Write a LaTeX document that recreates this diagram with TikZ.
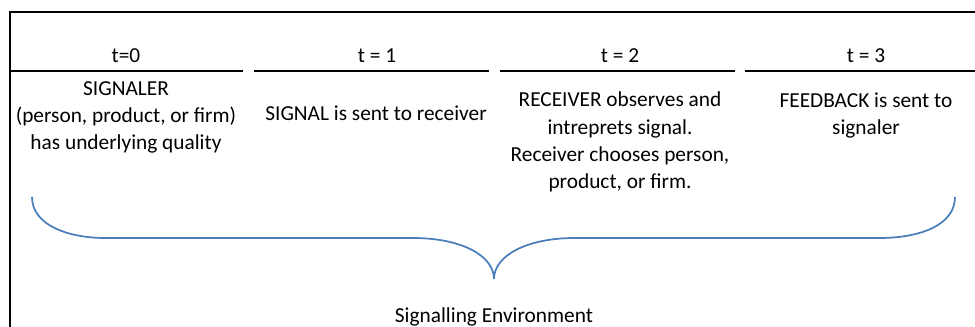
\documentclass[tikz,border=0pt]{standalone}
\usepackage{fontspec}
\setmainfont{Carlito}
\begin{document}
\begin{tikzpicture}[x=0.75pt,y=-0.75pt,
  lbl/.style={font=\fontsize{16}{20.4}\selectfont,align=center,inner sep=0pt,anchor=base},
  rule/.style={line width=1.5pt,black},
  bracecol/.style={line width=1.3pt,draw=bluebrace}]
\definecolor{bluebrace}{HTML}{4A7EBB}
\useasboundingbox (0,0) rectangle (975,327);
% frame
\draw[line width=1.8pt] (10,327) -- (10,12) -- (975,12);
% timeline rules
\draw[rule] (10,71) -- (243,71);
\draw[rule] (254,71) -- (489,71);
\draw[rule] (500,71) -- (735,71);
\draw[rule] (745,71) -- (975,71);
% time labels (base = baseline)
\node[lbl] (t0) at (126,63) {t=0};
\node[lbl] (t1) at (377,63) {t = 1};
\node[lbl] (t2) at (620,63) {t = 2};
\node[lbl] (t3) at (866,63) {t = 3};
% descriptions (base = baseline of last line)
\node[lbl] (s0) at (126,149.5) {SIGNALER\\(person, product, or firm)\\has underlying quality};
\node[lbl] (s1) at (376,121) {SIGNAL is sent to receiver};
\node[lbl] (s2) at (620,188.5) {RECEIVER observes and\\intreprets signal.\\Receiver chooses person,\\product, or firm.};
\node[lbl] (s3) at (866,135) {FEEDBACK is sent to\\signaler};
% brace
\draw[bracecol] (32,197) .. controls (32,226) and (70,238) .. (105,238) -- (413,238)
  .. controls (462,238) and (494,256) .. (494,279)
  .. controls (494,256) and (526,238) .. (575,238) -- (880,238)
  .. controls (918,238) and (955,226) .. (955,197);
\node[lbl] (env) at (494,323) {Signalling Environment};
\end{tikzpicture}
\end{document}
